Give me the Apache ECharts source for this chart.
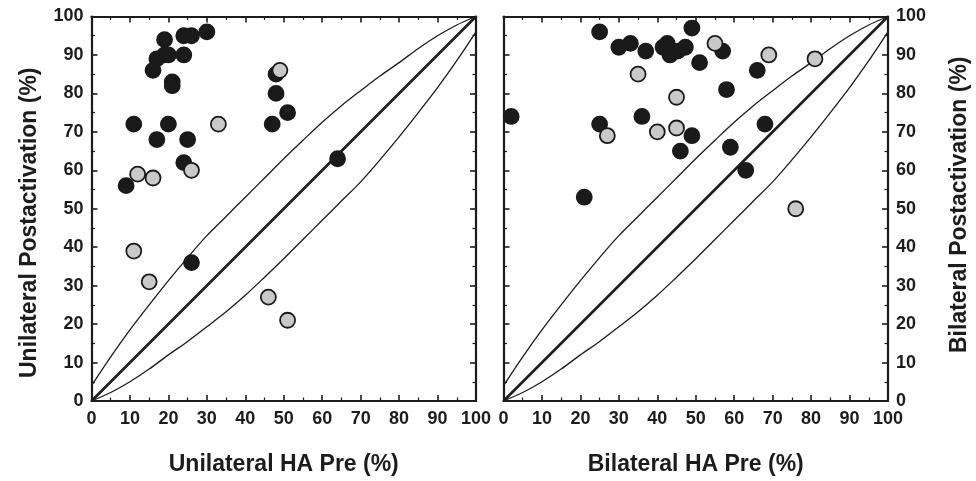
<!DOCTYPE html>
<html>
<head>
<meta charset="utf-8">
<script src="https://cdn.jsdelivr.net/npm/echarts@6/dist/echarts.min.js"></script>
<style>
  html, body { margin: 0; padding: 0; background: #fff; }
  #chart { width: 976px; height: 481px; }
</style>
</head>
<body>
<div id="chart"></div>
<script>
// values
var tickLabels = [0, 10, 20, 30, 40, 50, 60, 70, 80, 90, 100];

var leftBlack = [[9,56],[11,72],[20,72],[17,68],[25,68],[24,62],[30,96],[24,95],[26,95],[19,94],
  [17,89],[19,90],[20,90],[24,90],[16,86],[21,83],[21,82],[48,85],[48,80],[47,72],[51,75],[64,63],[26,36]];
var leftGray = [[12,59],[16,58],[33,72],[26,60],[49,86],[11,39],[15,31],[46,27],[51,21]];

var rightBlack = [[25,96],[30,92],[33,93],[37,91],[41.5,92],[42.6,93],[43.3,90],[45.3,91],[47.3,92],[49,97],
  [51,88],[57,91],[66,86],[58,81],[2,74],[25,72],[36,74],[49,69],[46,65],[21,53],[68,72],[59,66],[63,60]];
var rightGray = [[35,85],[45,79],[27,69],[40,70],[45,71],[55,93],[69,90],[81,89],[76,50]];

// limits curves
var bandX = [0,5,10,15,20,25,30,35,40,45,50,55,60,65,70,75,80,85,90,95,100];
var upperBand = [4,11.5,18.5,25,31.3,37.3,43,48,53,58,63,67.8,72.5,76.8,80.7,84.5,88,91.7,95,97.8,100];
var lowerBand = [0,2.2,5,8.3,12,15.5,19.3,23.2,27.5,32.2,37,42,47,52,57,62.7,68.7,75,81.5,88.5,96];
var identity = [0, 100];

var FONT = 'Liberation Sans, Arial, sans-serif';
var INK = '#1c1c1c';

function zip(xs, ys) {
  return xs.map(function (x, i) { return [x, ys[i]]; });
}

function axis(opts) {
  var a = {
    type: 'value', min: 0, max: 100, interval: 10,
    axisLine: { show: true, onZero: false, lineStyle: { color: INK, width: 2.2 } },
    axisTick: { show: true, inside: true, length: 6, lineStyle: { color: INK, width: 1.6 } },
    minorTick: { show: true, splitNumber: 2, length: 3.5, lineStyle: { color: INK, width: 1.2 } },
    splitLine: { show: false },
    axisLabel: { show: false }
  };
  for (var k in opts) a[k] = opts[k];
  return a;
}

var labelStyle = { show: true, color: INK, fontFamily: FONT, fontWeight: 'bold', fontSize: 18 };
function nameStyle(pad) {
  return { color: INK, fontFamily: FONT, fontWeight: 'bold', fontSize: 23, padding: pad || 0 };
}

function scatter(data, xi, yi, fill, z) {
  return {
    type: 'scatter', xAxisIndex: xi, yAxisIndex: yi, data: data, z: z,
    symbolSize: 15,
    itemStyle: { color: fill, borderColor: '#1a1a1a', borderWidth: 1.8, opacity: 1 }
  };
}

function curve(data, xi, yi, w) {
  return {
    type: 'line', xAxisIndex: xi, yAxisIndex: yi, data: data, smooth: 0.3,
    showSymbol: false, symbol: 'none', z: 1,
    lineStyle: { color: INK, width: w }
  };
}

var chart = echarts.init(document.getElementById('chart'));
chart.setOption({
  backgroundColor: '#fff',
  animation: false,
  grid: [
    { left: 91.5, top: 16.5, width: 384.5, height: 385 },
    { left: 503.5, top: 16.5, width: 384.5, height: 385 }
  ],
  xAxis: [
    axis({ gridIndex: 0, position: 'bottom', axisLabel: Object.assign({ margin: 9 }, labelStyle),
      name: 'Unilateral HA Pre (%)', nameLocation: 'middle', nameGap: 52, nameTextStyle: nameStyle() }),
    axis({ gridIndex: 0, position: 'top' }),
    axis({ gridIndex: 1, position: 'bottom', axisLabel: Object.assign({ margin: 9 }, labelStyle),
      name: 'Bilateral HA Pre (%)', nameLocation: 'middle', nameGap: 52, nameTextStyle: nameStyle() }),
    axis({ gridIndex: 1, position: 'top' })
  ],
  yAxis: [
    axis({ gridIndex: 0, position: 'left', axisLabel: Object.assign({ margin: 8 }, labelStyle),
      name: 'Unilateral Postactivation (%)', nameLocation: 'middle', nameGap: 50,
      nameTextStyle: nameStyle([0, 28, 0, 0]) }),
    axis({ gridIndex: 0, position: 'right' }),
    axis({ gridIndex: 1, position: 'left' }),
    axis({ gridIndex: 1, position: 'right', axisLabel: Object.assign({ margin: 8 }, labelStyle),
      name: 'Bilateral Postactivation (%)', nameLocation: 'middle', nameGap: 60,
      nameTextStyle: nameStyle([0, 0, 0, 8]) })
  ],
  series: [
    curve(zip(bandX, upperBand), 0, 0, 1.3),
    curve(zip(bandX, lowerBand), 0, 0, 1.3),
    curve(zip(identity, identity), 0, 0, 2.6),
    scatter(leftBlack, 0, 0, '#1a1a1a', 3),
    scatter(leftGray, 0, 0, '#c9c9c9', 4),

    curve(zip(bandX, upperBand), 2, 3, 1.3),
    curve(zip(bandX, lowerBand), 2, 3, 1.3),
    curve(zip(identity, identity), 2, 3, 2.6),
    scatter(rightBlack, 2, 3, '#1a1a1a', 3),
    scatter(rightGray, 2, 3, '#c9c9c9', 4)
  ]
});
</script>
</body>
</html>
